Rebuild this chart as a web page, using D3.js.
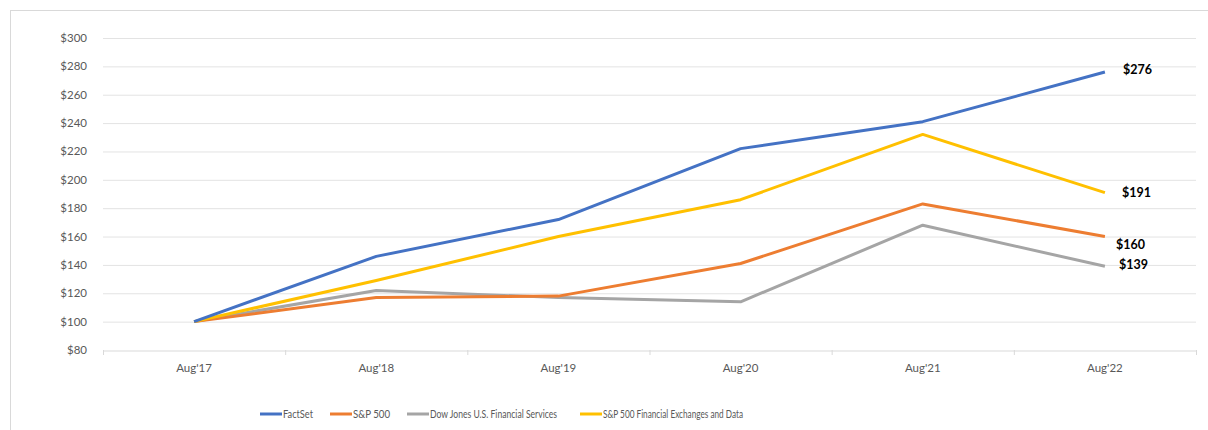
<!DOCTYPE html>
<html>
<head>
<meta charset="utf-8">
<script src="https://cdn.jsdelivr.net/npm/d3@7"></script>
<style>
  body { margin: 0; background: #fff; }
  svg { font-family: Lato, "Open Sans", sans-serif; }
</style>
</head>
<body>
<svg id="chart" width="1208" height="430"></svg>
<script>
const years = ["Aug'17", "Aug'18", "Aug'19", "Aug'20", "Aug'21", "Aug'22"];
const yTicks = [80, 100, 120, 140, 160, 180, 200, 220, 240, 260, 280, 300];

const factset = [100, 146, 172, 222, 241, 276];
const sp500 = [100, 117, 118, 141, 183, 160];
const dowJones = [100, 122, 117, 114, 168, 139];
const spFinExch = [100, 129, 160, 186, 232, 191];

const seriesNames = ["FactSet", "S&P 500", "Dow Jones U.S. Financial Services", "S&P 500 Financial Exchanges and Data"];
const seriesColors = ["#4472C4", "#ED7D31", "#A5A5A5", "#FFC000"];
const endLabels = ["$276", "$160", "$139", "$191"];

const series = [factset, sp500, dowJones, spFinExch].map((values, i) => ({
  name: seriesNames[i],
  color: seriesColors[i],
  label: endLabels[i],
  values: values
}));

const svg = d3.select("#chart");

// outer frame
svg.append("rect")
  .attr("x", 10.5).attr("y", 10.5)
  .attr("width", 1210).attr("height", 430)
  .attr("fill", "none")
  .attr("stroke", "#d9d9d9");

const x = d3.scaleBand().domain(years).range([103, 1196]);
const y = d3.scaleLinear().domain([80, 300]).range([350, 38]);

// gridlines
svg.append("g")
  .selectAll("line")
  .data(yTicks.filter(d => d > 80))
  .join("line")
  .attr("x1", 103).attr("x2", 1196)
  .attr("y1", d => y(d) + 0.5).attr("y2", d => y(d) + 0.5)
  .attr("stroke", "#e3e3e3");

// y axis labels
svg.append("g")
  .selectAll("text")
  .data(yTicks)
  .join("text")
  .attr("x", 87)
  .attr("y", d => y(d) + 4)
  .attr("text-anchor", "end")
  .attr("font-size", 11.5)
  .attr("fill", "#595959")
  .text(d => "$" + d);

// x axis
const xAxis = svg.append("g")
  .attr("transform", "translate(0,350.5)")
  .call(d3.axisBottom(x).tickSize(0).tickPadding(13));
xAxis.select(".domain").attr("stroke", "#d9d9d9");
xAxis.selectAll("text").attr("font-size", 11.5).attr("fill", "#595959")
  .attr("font-family", "Lato, sans-serif");

// category boundary ticks
svg.append("g")
  .selectAll("line")
  .data(d3.range(years.length + 1))
  .join("line")
  .attr("x1", i => 103 + i * x.bandwidth() + 0.5)
  .attr("x2", i => 103 + i * x.bandwidth() + 0.5)
  .attr("y1", 350).attr("y2", 355)
  .attr("stroke", "#d9d9d9");

const line = d3.line()
  .x((d, i) => x(years[i]) + x.bandwidth() / 2)
  .y(d => y(d));

// yellow drawn above gray/orange, blue on top
const drawOrder = [2, 1, 3, 0];
svg.append("g")
  .selectAll("path")
  .data(drawOrder.map(i => series[i]))
  .join("path")
  .attr("d", d => line(d.values))
  .attr("fill", "none")
  .attr("stroke", d => d.color)
  .attr("stroke-width", 3)
  .attr("stroke-linejoin", "round");

// end labels
const labelDx = [18, 11, 14, 17];
const labelDy = [2, 12, 3, 4];
svg.append("g")
  .selectAll("text")
  .data(series)
  .join("text")
  .attr("x", (d, i) => x(years[5]) + x.bandwidth() / 2 + labelDx[i])
  .attr("y", (d, i) => y(d.values[5]) + labelDy[i])
  .attr("font-size", 12.5)
  .attr("font-weight", "bold")
  .attr("fill", "#000")
  .text(d => d.label);

// legend
const legendX = [260, 330, 407, 580];
const legendTextW = [30, 37, 127, 140];
const legend = svg.append("g")
  .selectAll("g")
  .data(series)
  .join("g")
  .attr("transform", (d, i) => `translate(${legendX[i]},414)`);
legend.append("line")
  .attr("x1", 0).attr("x2", 22)
  .attr("stroke", d => d.color)
  .attr("stroke-width", 3);
legend.append("text")
  .attr("x", 23).attr("y", 4)
  .attr("font-size", 11.5)
  .attr("fill", "#595959")
  .attr("textLength", (d, i) => legendTextW[i])
  .attr("lengthAdjust", "spacingAndGlyphs")
  .text(d => d.name);
</script>
</body>
</html>
